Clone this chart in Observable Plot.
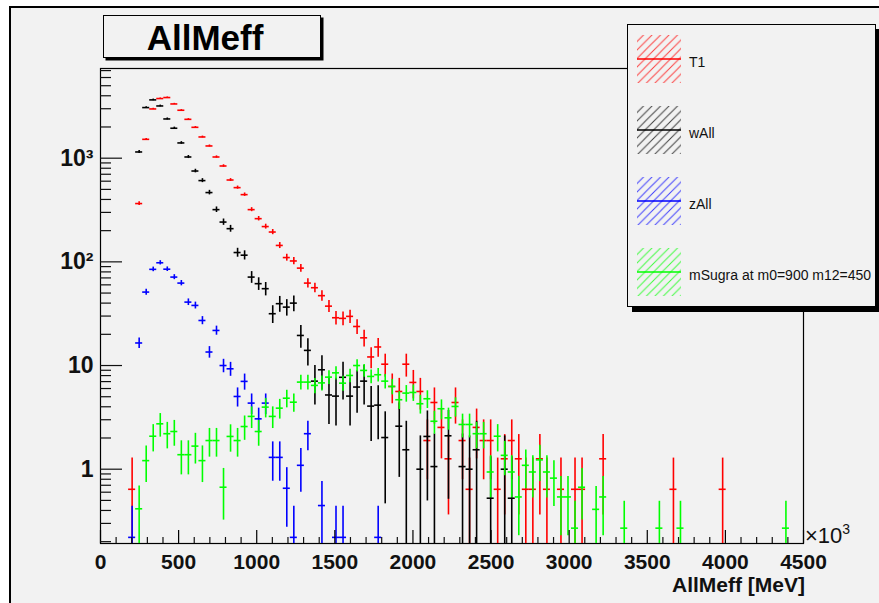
<!DOCTYPE html>
<html><head><meta charset="utf-8">
<script src="https://cdn.jsdelivr.net/npm/d3@7"></script>
<script src="https://cdn.jsdelivr.net/npm/@observablehq/plot@0.6"></script>
<style>
body{margin:0;background:#fff;width:879px;height:603px;overflow:hidden;position:relative;font-family:"Liberation Sans",Arial,Helvetica,sans-serif}
#bg{position:absolute;left:9px;top:6px;width:880px;height:610px;background:#f2f2f2;border-left:2.6px solid #000;border-top:2.6px solid #000}
#chart{position:absolute;left:0;top:0}
#title{position:absolute;left:103px;top:15px;width:202px;height:41px;border:1.6px solid #000;background:#f2f2f2;box-shadow:2.5px 2.5px 0 #000;font-weight:bold;font-size:35px;text-align:center;line-height:43px;padding-right:14px;box-sizing:content-box}
#legend{position:absolute;left:627px;top:24px;width:247px;height:281px;border:1.5px solid #000;background:#f2f2f2;box-shadow:5px 5px 0 #000}
.entry{position:absolute;left:0;width:247px;height:50px}
.entry svg{position:absolute;left:8px;top:0}
.entry span{position:absolute;left:61px;top:0;line-height:56px;font-size:14px;color:#111;white-space:nowrap}
#xunit{position:absolute;left:805px;top:523px;font-size:22px;color:#111}
#xunit sup{font-size:14px;vertical-align:9px;line-height:0}
#xtitle{position:absolute;right:74px;top:573px;font-size:21px;font-weight:bold;color:#111;white-space:nowrap}
</style></head><body>
<div id="bg"></div>
<div id="chart"></div>
<div id="title">AllMeff</div>
<div id="legend"></div>
<div id="xunit">×10<sup>3</sup></div>
<div id="xtitle">AllMeff [MeV]</div>
<script>
// Histogram binning: 100 bins from 0 to 4500
const xMin = 0, xMax = 4500, nBins = 100;
const yMin = 0.192, yMax = 7330;

// bin contents (index = bin number)
const t1 = [0,0,0,0,0.64,365,1520,2985,3760,3845,
  3335,2900,2370,1985,1602,1312,1027,841,616,520,
  445,319,261,219,194,144,110,102,87,62.4,
  56.3,47.2,37.4,28.9,28.5,29.8,23.8,18.5,12.1,15.1,
  10.3,6.28,5.62,10.3,6.87,5.62,1.89,4.4,2.53,1.26,
  4.4,1.89,0.64,2.53,1.89,1.89,0.64,1.26,1.89,1.26,
  0.64,0.64,1.26,0.64,0,0.64,0,0.64,0.64,0,
  0,1.26,0,0,0,0,0,0,0,0,
  0,0.64,0,0,0,0,0,0,0.64,0,
  0,0,0,0,0,0,0,0,0,0];
const wAll = [0,0,0,0,0,1148,3077,3650,3190,2390,
  1945,1403,1027,752,608,466,319,242,209,123,
  116,71.3,61.6,55.1,31.6,39.5,36.6,40,19.5,14,
  7.07,9.1,5.2,5.07,7.7,5.07,6.2,7.07,4.06,4.15,
  2.02,0,2.6,1.54,0,1.0,2.07,1.06,0,2.1,
  0,1.06,1.0,1.54,0,0.525,0,1.0,0.525,0,
  0,0,0,0,0,0,0,0,0,0,
  0,0,0,0,0,0,0,0,0,0,
  0,0,0,0,0,0,0,0,0,0,
  0,0,0,0,0,0,0,0,0,0];
const zAll = [0,0,0,0,0.22,16.5,51.1,84.7,98,85,
  71.3,62.4,40.9,38,27.2,13.5,21.8,10.0,9.3,5.03,
  7.03,4.34,3.06,4.34,1.3,1.3,0.655,0.22,1.09,2.2,
  0,0.446,0,0.22,0.22,0,0,0,0,0.22,
  0,0,0,0,0,0,0,0,0,0,
  0,0,0,0,0,0,0,0,0,0,
  0,0,0,0,0,0,0,0,0,0,
  0,0,0,0,0,0,0,0,0,0,
  0,0,0,0,0,0,0,0,0,0,
  0,0,0,0,0,0,0,0,0,0];
const mSugra = [0,0,0,0,0,0.415,1.21,2.08,2.74,2.2,
  2.31,1.38,1.38,1.67,1.21,1.89,1.89,0.67,2.07,1.89,
  2.58,3.23,2.31,3.97,3.23,3.88,4.84,4.43,6.92,6.92,
  6.43,6.8,7.73,8.5,6.76,8.02,10.0,8.97,7.85,8.15,
  7.07,6.28,4.68,5.42,5.5,4.28,4.78,2.9,3.83,3.13,
  4.03,2.7,2.7,2.2,2.2,0.94,2.08,1.36,0.94,0.54,
  1.09,0.94,1.23,0.94,0.82,0.54,0.54,0.27,0.67,0,
  0.41,0.54,0,0,0.27,0,0,0,0,0.27,
  0,0,0.27,0,0,0,0,0,0,0,
  0,0,0,0,0,0,0,0.27,0,0];

const seriesNames = ["T1","wAll","zAll","mSugra at m0=900 m12=450"];
const seriesValues = [t1, wAll, zAll, mSugra];
const seriesColors = ["#ff0000","#000000","#0000ff","#00ff00"];
const seriesWeights = [0.64, 1.2, 0.22, 0.18]; // typical event weight (for Poisson errors)

const xTicks = [0,500,1000,1500,2000,2500,3000,3500,4000,4500];
const yTicks = [1,10,100,1000];
const yTickLabels = ["1","10","10²","10³"];

const bw = (xMax - xMin) / nBins;
function rows(vals, w) {
  return vals.map((v, i) => {
    const e = Math.sqrt(v * w);
    return {x0: xMin + i*bw, x1: xMin + (i+1)*bw, xc: xMin + (i+0.5)*bw,
            v, lo: Math.max(v - e, yMin), hi: Math.min(v + e, yMax)};
  }).filter(d => d.v > 0);
}

const minorX = d3.range(xMin, xMax + 1, 100).filter(d => d % 500 !== 0);
const minorY = [];
for (let p = -1; p <= 3; p++) for (let m = 2; m <= 9; m++) {
  const v = m * Math.pow(10, p);
  if (v >= yMin && v <= yMax) minorY.push(v);
}

const marks = [Plot.frame({stroke: "#000", strokeWidth: 1.2})];
seriesValues.forEach((vals, s) => {
  const data = rows(vals, seriesWeights[s]);
  marks.push(Plot.ruleX(data, {x: "xc", y1: "lo", y2: "hi", stroke: seriesColors[s], strokeWidth: 1.6, clip: true}));
  marks.push(Plot.ruleY(data, {y: "v", x1: "x0", x2: "x1", stroke: seriesColors[s], strokeWidth: 1.6, clip: true}));
});
marks.push(
  Plot.axisX({ticks: xTicks, tickSize: -13, tickPadding: 24, tickFormat: d => String(d), fontSize: 21, fontWeight: "bold", stroke: "#000", strokeWidth: 1.2, label: null}),
  Plot.axisX({ticks: minorX, tickSize: -6, tickFormat: () => "", strokeWidth: 1.2, label: null}),
  Plot.axisY({ticks: yTicks, tickSize: -22, tickPadding: 29, tickFormat: d => yTickLabels[yTicks.indexOf(d)], fontSize: 23, fontWeight: "bold", strokeWidth: 1.2, label: null}),
  Plot.axisY({ticks: minorY, tickSize: -11, tickFormat: () => "", strokeWidth: 1.2, label: null})
);

const chart = Plot.plot({
  width: 879, height: 603,
  marginLeft: 100, marginRight: 76, marginTop: 68, marginBottom: 60,
  style: {background: "transparent", fontFamily: "'Liberation Sans', Arial, sans-serif", color: "#111", overflow: "visible"},
  x: {domain: [xMin, xMax]},
  y: {type: "log", domain: [yMin, yMax]},
  marks
});
document.getElementById("chart").appendChild(chart);

// Legend (ROOT TLegend look with hatched swatches)
const legend = document.getElementById("legend");
const centers = [34, 105, 176, 247];
seriesNames.forEach((name, s) => {
  const div = document.createElement("div");
  div.className = "entry";
  div.style.top = (centers[s] - 25) + "px";
  const c = seriesColors[s];
  div.innerHTML = `<svg width="46" height="50">
    <defs><pattern id="h${s}" patternUnits="userSpaceOnUse" width="8.5" height="8.5">
      <path d="M-1,9.5 L9.5,-1 M-2,2 L2,-2 M6.5,10.5 L10.5,6.5" stroke="${c}" stroke-opacity="0.75" stroke-width="1"/></pattern></defs>
    <rect x="1" y="1" width="44" height="48" fill="url(#h${s})"/>
    <line x1="1" x2="45" y1="25" y2="25" stroke="${c}" stroke-width="1.6"/>
  </svg><span>${name}</span>`;
  legend.appendChild(div);
});
</script>
</body></html>
